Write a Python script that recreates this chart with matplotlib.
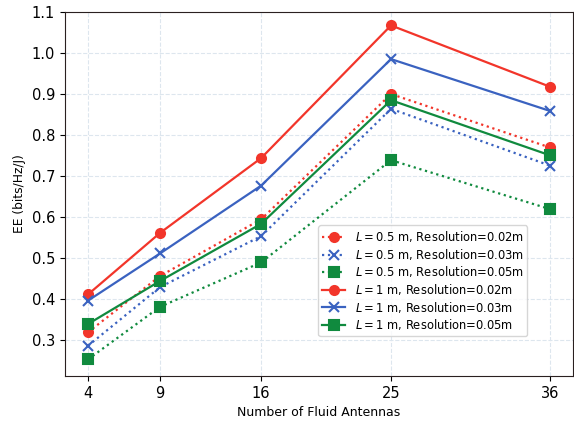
import matplotlib
matplotlib.use("Agg")
import matplotlib.pyplot as plt

antennas = [4, 9, 16, 25, 36]
l05_r002 = [0.320, 0.457, 0.595, 0.900, 0.770]
l05_r003 = [0.287, 0.430, 0.554, 0.864, 0.726]
l05_r005 = [0.254, 0.382, 0.490, 0.739, 0.620]
l1_r002 = [0.412, 0.562, 0.744, 1.067, 0.918]
l1_r003 = [0.397, 0.512, 0.677, 0.985, 0.859]
l1_r005 = [0.340, 0.445, 0.584, 0.885, 0.751]
labels = [r"$L=0.5$ m, Resolution=0.02m",
          r"$L=0.5$ m, Resolution=0.03m",
          r"$L=0.5$ m, Resolution=0.05m",
          r"$L=1$ m, Resolution=0.02m",
          r"$L=1$ m, Resolution=0.03m",
          r"$L=1$ m, Resolution=0.05m"]

red, blue, green = "#f2352a", "#3a62c0", "#108a3e"

fig = plt.figure(figsize=(5.74, 4.24), dpi=100)
ax = fig.add_axes([0.113, 0.113, 0.885, 0.859])

series = [(l05_r002, red, "o", ":"), (l05_r003, blue, "x", ":"), (l05_r005, green, "s", ":"),
          (l1_r002, red, "o", "-"), (l1_r003, blue, "x", "-"), (l1_r005, green, "s", "-")]
for (vals, c, m, ls), lab in zip(series, labels):
    ax.plot(antennas, vals, color=c, marker=m, linestyle=ls, linewidth=1.6,
            markersize=6.5, markeredgewidth=1.5, label=lab)

ax.set_xticks(antennas)
ax.set_xticklabels([str(a) for a in antennas])
ax.set_ylim(top=1.1)
ax.set_yticks([0.3, 0.4, 0.5, 0.6, 0.7, 0.8, 0.9, 1.0, 1.1])
ax.tick_params(labelsize=10.5)
ax.grid(True, linestyle="--", color="#dde6ee", linewidth=0.8)
ax.set_xlabel("Number of Fluid Antennas", fontsize=9)
ax.set_ylabel("EE (bits/Hz/J)", fontsize=8.8)
for s in ax.spines.values():
    s.set_color("#2a2020")
ax.legend(loc="lower right", bbox_to_anchor=(0.922, 0.094), fontsize=8.3,
          handlelength=2.0, borderpad=0.35, labelspacing=0.22)

fig.savefig("out.png", dpi=100)
